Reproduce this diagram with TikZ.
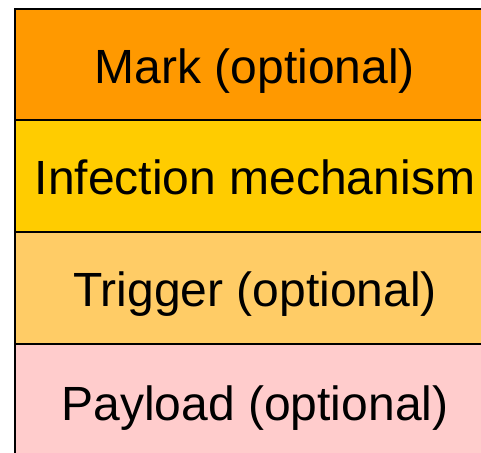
\documentclass[tikz,border=0pt]{standalone}
\usepackage{fontspec}
\setmainfont{Liberation Sans}
\definecolor{markfill}{HTML}{FF9900}
\definecolor{infectfill}{HTML}{FFCC00}
\definecolor{triggerfill}{HTML}{FFCC66}
\definecolor{payloadfill}{HTML}{FFCCCC}
\begin{document}
\begin{tikzpicture}[x=1pt,y=1pt,
  layer/.style={draw=black, line width=2pt, minimum width=480pt, minimum height=112pt,
    inner sep=0pt, anchor=north west, text height=37pt, text depth=0pt,
    font=\fontsize{48}{50}\selectfont}]
  \useasboundingbox (0,0) rectangle (481,-452);
  \clip (0,0) rectangle (481,-452);
  \node[layer, fill=markfill]    (mark)    at (14,-8)   {Mark (optional)};
  \node[layer, fill=infectfill]  (infect)  at (14,-119) {Infection mechanism};
  \node[layer, fill=triggerfill] (trigger) at (14,-231) {Trigger (optional)};
  \node[layer, fill=payloadfill, minimum height=116pt] (payload) at (14,-343) {Payload (optional)};
\end{tikzpicture}
\end{document}
